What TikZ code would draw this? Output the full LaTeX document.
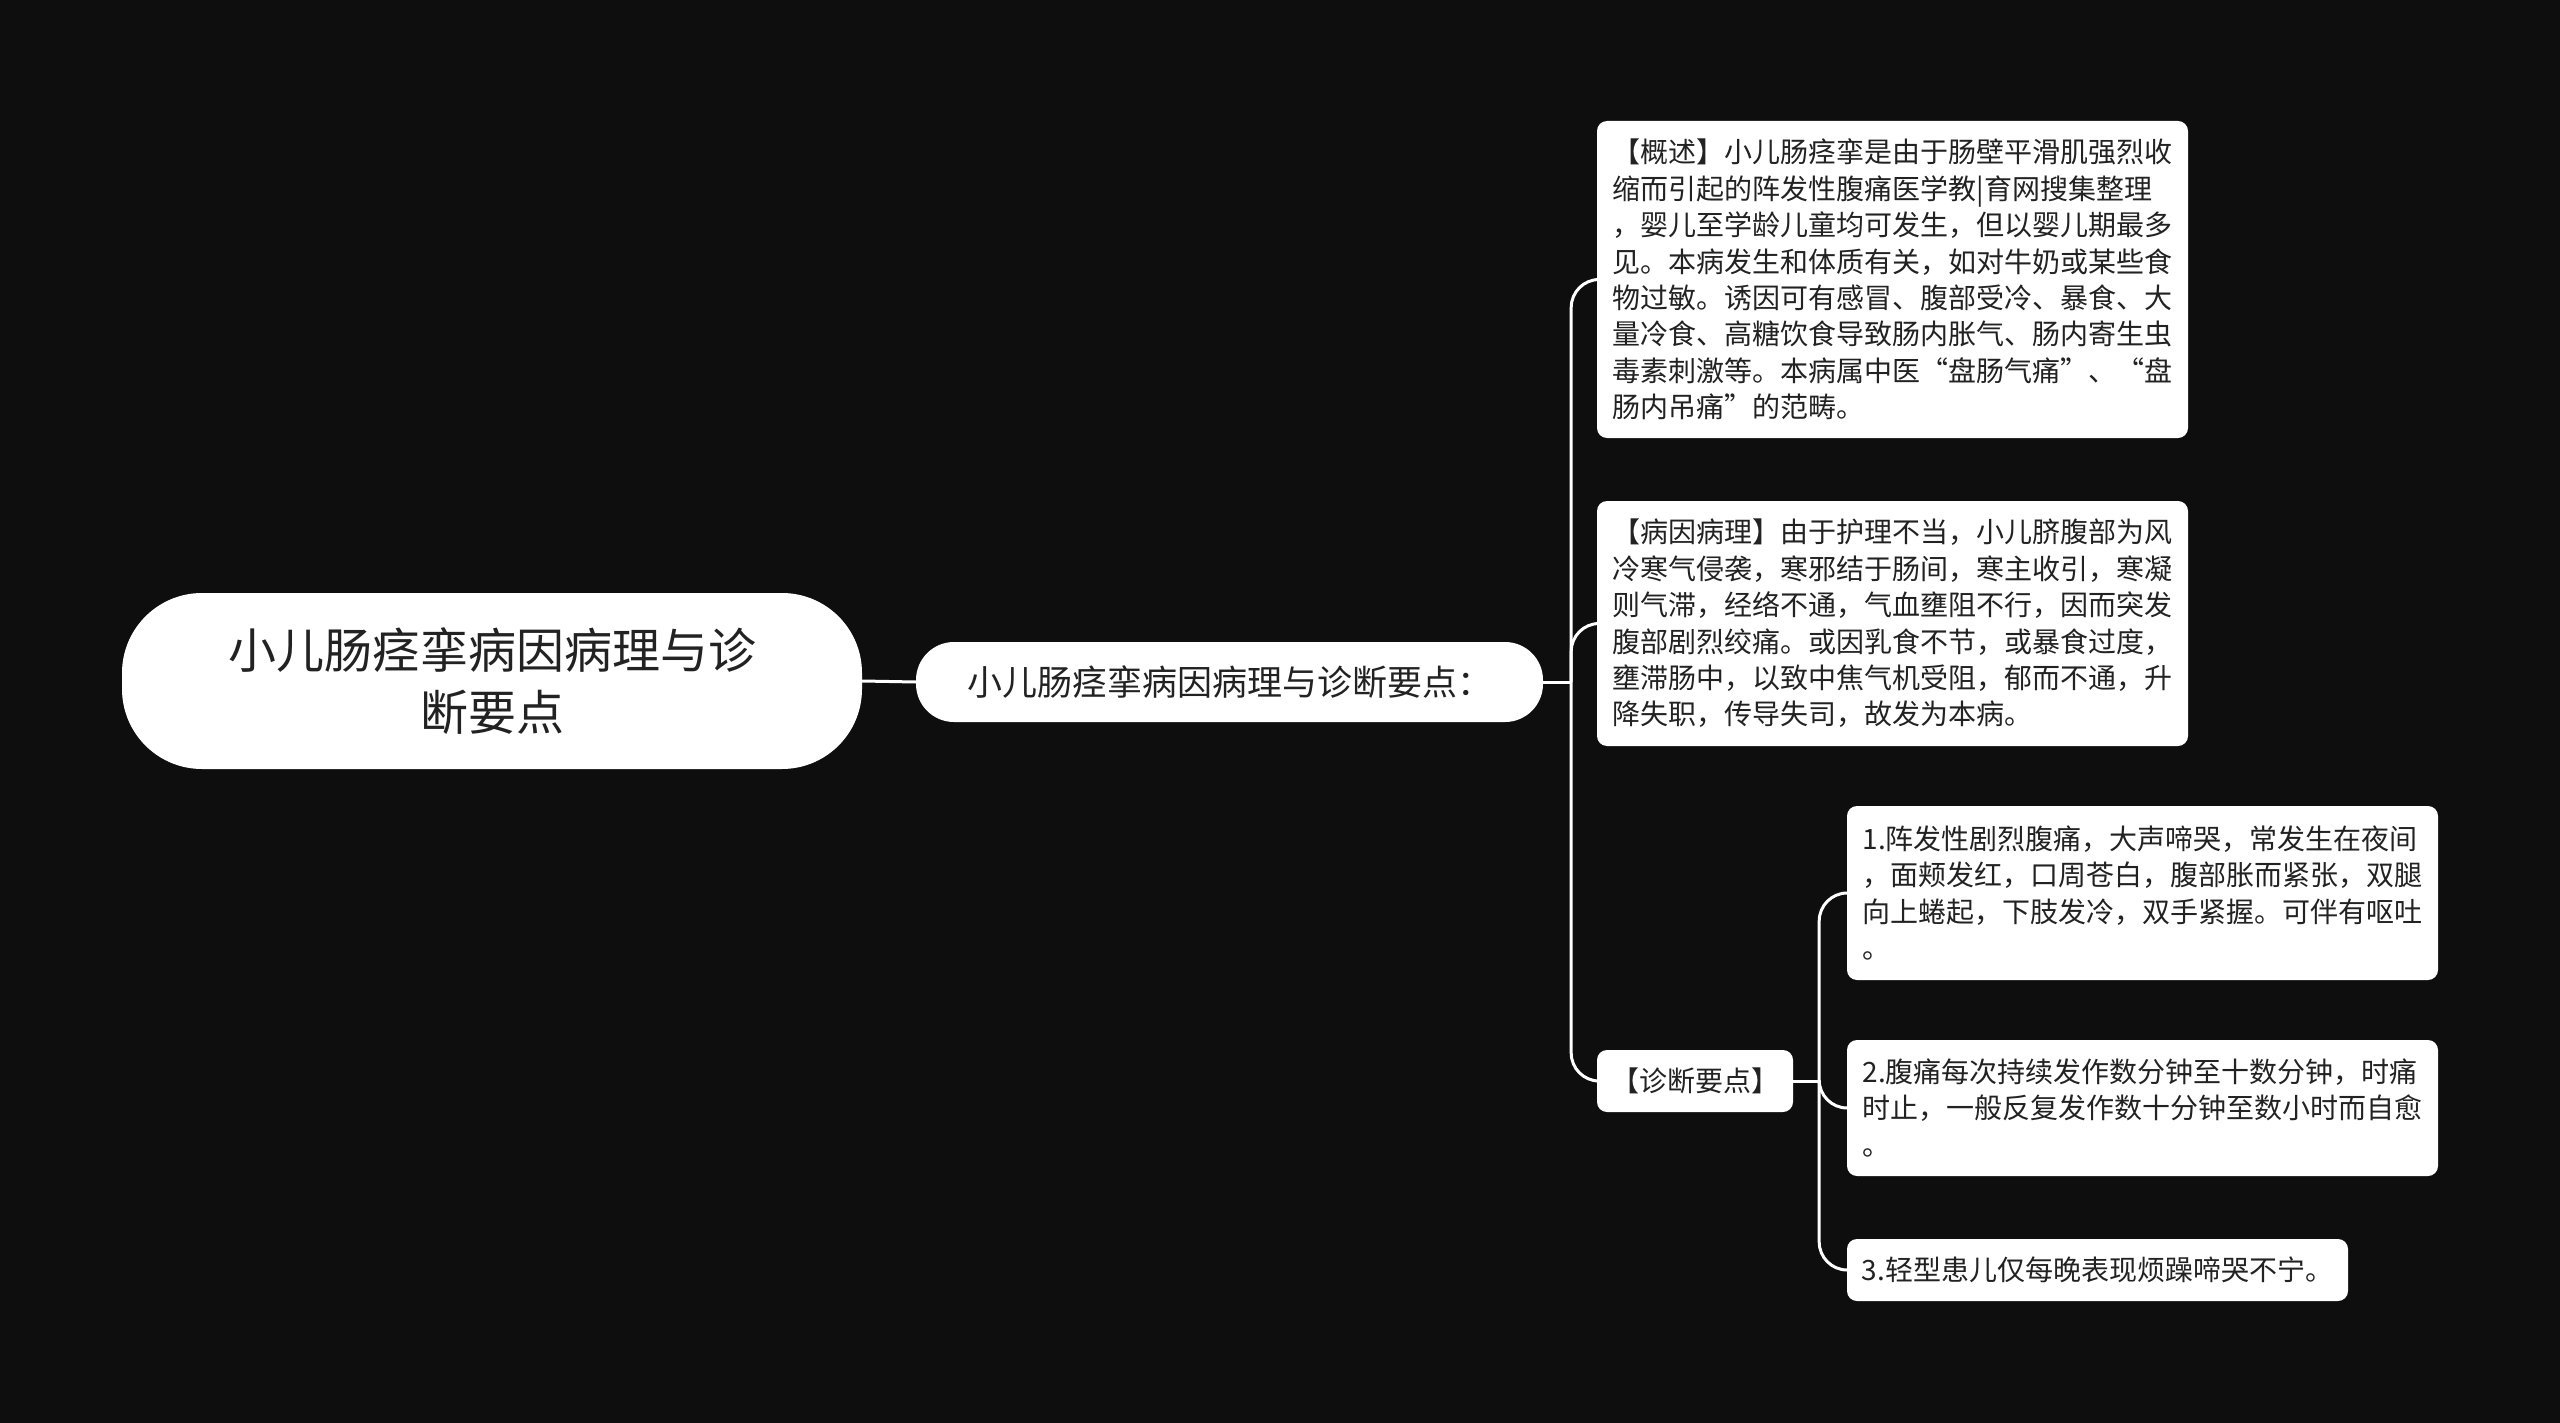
\documentclass[tikz,border=0pt]{standalone}
\usepackage{fontspec}
\setmainfont{Noto Sans CJK SC}
\definecolor{bg}{RGB}{14,14,14}
\definecolor{txt}{RGB}{34,34,34}
\tikzset{
  box/.style={draw=none, fill=white, rounded corners=10pt, text=txt, align=left, inner sep=0pt,
              font=\fontsize{28}{36.4}\selectfont},
  conn/.style={draw=white, line width=3pt, rounded corners=28pt},
}
\begin{document}
\begin{tikzpicture}[x=1pt,y=-1pt]
\fill[bg] (0,0) rectangle (2560,1423);
\useasboundingbox (0,0) rectangle (2560,1423);

\node[fill=white, rounded corners=80pt, text=txt, align=center, inner sep=0pt,
      minimum width=740pt, minimum height=176pt, font=\fontsize{48}{62}\selectfont]
  (root) at (492,681) {小儿肠痉挛病因病理与诊\\断要点};

\node[fill=white, rounded corners=38pt, text=txt, align=center, inner sep=0pt,
      minimum width=627pt, minimum height=80pt, font=\fontsize{35}{42}\selectfont]
  (sec) at (1229.5,682) {小儿肠痉挛病因病理与诊断要点：};

\node[box, minimum width=591pt, minimum height=317pt] (c1) at (1892.5,279.5)
 {【概述】小儿肠痉挛是由于肠壁平滑肌强烈收\\
  缩而引起的阵发性腹痛医学教|育网搜集整理\\
  ，婴儿至学龄儿童均可发生，但以婴儿期最多\\
  见。本病发生和体质有关，如对牛奶或某些食\\
  物过敏。诱因可有感冒、腹部受冷、暴食、大\\
  量冷食、高糖饮食导致肠内胀气、肠内寄生虫\\
  毒素刺激等。本病属中医“盘肠气痛”、“盘\\
  肠内吊痛”的范畴。};

\node[box, minimum width=591pt, minimum height=245pt] (c2) at (1892.5,623.5)
 {【病因病理】由于护理不当，小儿脐腹部为风\\
  冷寒气侵袭，寒邪结于肠间，寒主收引，寒凝\\
  则气滞，经络不通，气血壅阻不行，因而突发\\
  腹部剧烈绞痛。或因乳食不节，或暴食过度，\\
  壅滞肠中，以致中焦气机受阻，郁而不通，升\\
  降失职，传导失司，故发为本病。};

\node[box, align=center, minimum width=196pt, minimum height=62pt] (c3) at (1695,1081)
 {【诊断要点】};

\node[box, minimum width=591pt, minimum height=174pt] (g1) at (2142.5,893)
 {1.阵发性剧烈腹痛，大声啼哭，常发生在夜间\\
  ，面颊发红，口周苍白，腹部胀而紧张，双腿\\
  向上蜷起，下肢发冷，双手紧握。可伴有呕吐\\
  。};

\node[box, minimum width=591pt, minimum height=136pt] (g2) at (2142.5,1108)
 {2.腹痛每次持续发作数分钟至十数分钟，时痛\\
  时止，一般反复发作数十分钟至数小时而自愈\\
  。};

\node[box, align=center, minimum width=501pt, minimum height=62pt] (g3) at (2097.5,1270)
 {3.轻型患儿仅每晚表现烦躁啼哭不宁。};

% connectors
\draw[conn] (root.east) -- (sec.west);
\draw[conn] (sec.east) -- ++(28,0) coordinate (t1);
\draw[conn] (t1) |- (c1.west);
\draw[conn] (t1) |- (c2.west);
\draw[conn] (t1) |- (c3.west);

\draw[conn] (c3.east) -- ++(26,0) coordinate (t2);
\draw[conn] (t2) |- (g1.west);
\draw[conn] (t2) |- (g2.west);
\draw[conn] (t2) |- (g3.west);
\end{tikzpicture}
\end{document}
